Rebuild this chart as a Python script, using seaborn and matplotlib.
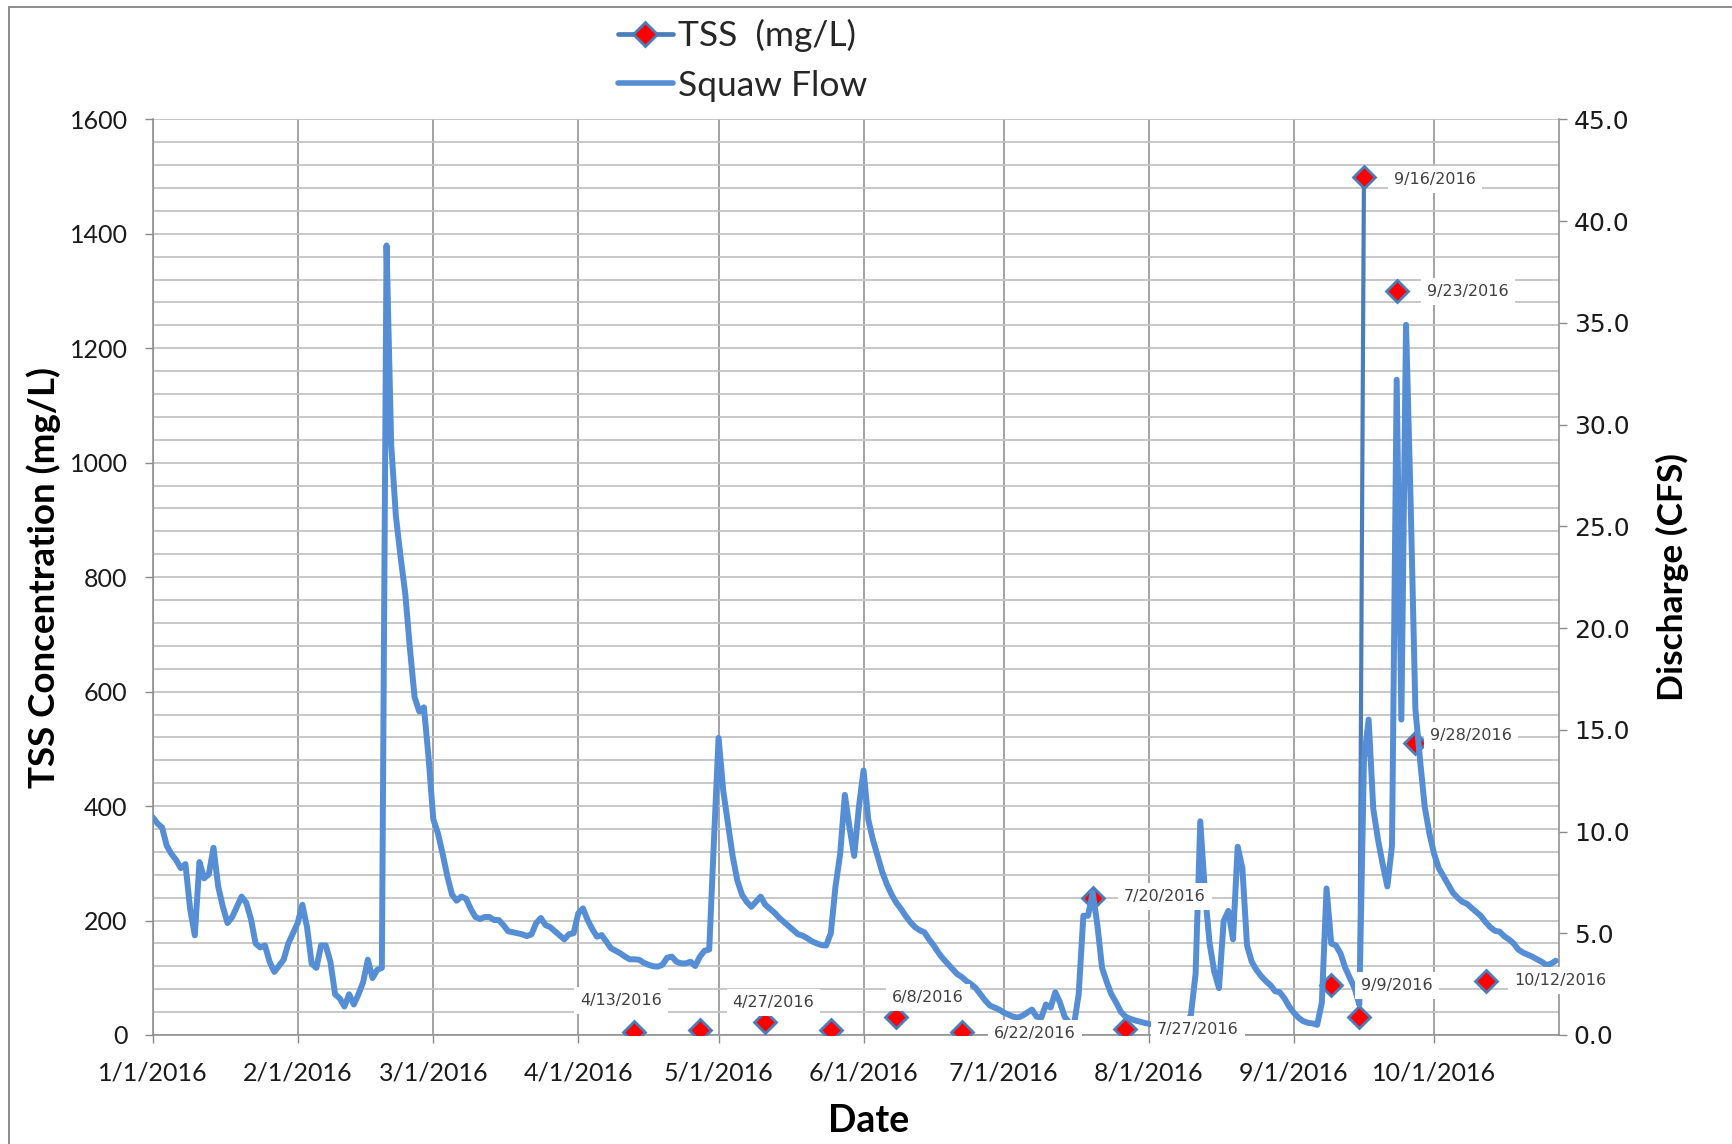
import numpy as np
import pandas as pd
import matplotlib
matplotlib.use("Agg")
import matplotlib.pyplot as plt
import matplotlib.dates as mdates
from matplotlib.lines import Line2D
from matplotlib.ticker import MultipleLocator, FuncFormatter, FormatStrFormatter
import seaborn as sns

# ---------------- data ----------------
flow_start = "2016-01-01"
flow_cfs = [
    10.7, 10.4, 10.2, 9.3, 8.9, 8.6, 8.2, 8.4, 6.2, 4.9,
    8.5, 7.7, 7.9, 9.2, 7.3, 6.3, 5.5, 5.8, 6.3, 6.8,
    6.5, 5.7, 4.5, 4.3, 4.4, 3.6, 3.1, 3.4, 3.7, 4.5,
    5.0, 5.5, 6.4, 5.3, 3.5, 3.3, 4.4, 4.4, 3.6, 2.0,
    1.8, 1.4, 2.0, 1.5, 2.0, 2.6, 3.7, 2.8, 3.2, 3.3,
    38.8, 29.0, 25.5, 23.5, 21.7, 19.0, 16.6, 15.9, 16.1, 13.6,
    10.6, 9.9, 8.9, 7.8, 6.9, 6.6, 6.8, 6.7, 6.2, 5.8,
    5.7, 5.8, 5.8, 5.65, 5.65, 5.4, 5.1, 5.05, 5.0, 4.95,
    4.86, 4.95, 5.5, 5.75, 5.4, 5.3, 5.1, 4.9, 4.7, 4.95,
    5.0, 5.98, 6.22, 5.65, 5.2, 4.83, 4.91, 4.59, 4.26, 4.14,
    4.01, 3.85, 3.72, 3.72, 3.7, 3.55, 3.45, 3.38, 3.36, 3.45,
    3.8, 3.85, 3.6, 3.52, 3.52, 3.6, 3.39, 3.85, 4.14, 4.2,
    9.5, 14.6, 12.0, 10.4, 8.8, 7.6, 6.9, 6.55, 6.3, 6.55,
    6.8, 6.4, 6.2, 6.0, 5.75, 5.55, 5.35, 5.15, 4.95, 4.88,
    4.75, 4.6, 4.5, 4.42, 4.4, 5.0, 7.3, 8.9, 11.8, 10.2,
    8.8, 11.2, 13.0, 10.6, 9.6, 8.8, 8.0, 7.4, 6.9, 6.5,
    6.2, 5.85, 5.55, 5.3, 5.15, 5.05, 4.7, 4.4, 4.05, 3.75,
    3.5, 3.25, 3.0, 2.85, 2.65, 2.5, 2.3, 2.0, 1.7, 1.45,
    1.35, 1.25, 1.1, 1.0, 0.9, 0.85, 0.95, 1.1, 1.25, 0.9,
    0.85, 1.5, 1.35, 2.1, 1.6, 0.9, 0.6, 0.5, 2.0, 5.86,
    5.86, 7.0, 5.4, 3.3, 2.6, 2.0, 1.6, 1.15, 0.9, 0.8,
    0.72, 0.66, 0.6, 0.55, 0.5, 0.45, 0.42, 0.4, 0.38, 0.36,
    0.38, 0.45, 1.0, 3.0, 10.5, 7.0, 4.5, 3.1, 2.3, 5.6,
    6.1, 4.7, 9.25, 8.2, 4.4, 3.6, 3.2, 2.9, 2.65, 2.45,
    2.15, 2.1, 1.8, 1.4, 1.1, 0.85, 0.68, 0.6, 0.57, 0.5,
    1.6, 7.2, 4.5, 4.4, 4.0, 3.3, 2.8, 2.3, 1.5, 13.5,
    15.5, 11.1, 9.6, 8.4, 7.3, 9.3, 32.2, 15.5, 34.9, 26.0,
    16.0, 13.5, 11.2, 9.9, 8.9, 8.2, 7.8, 7.4, 7.0, 6.75,
    6.55, 6.45, 6.25, 6.05, 5.85, 5.55, 5.3, 5.12, 5.08, 4.85,
    4.7, 4.5, 4.2, 4.05, 3.95, 3.85, 3.72, 3.6, 3.44, 3.5,
    3.65,
]

tss_dates = ["2016-04-13", "2016-04-27", "2016-05-11", "2016-05-25",
             "2016-06-08", "2016-06-22", "2016-07-20", "2016-07-27",
             "2016-09-09", "2016-09-15", "2016-09-16", "2016-09-23",
             "2016-09-27", "2016-10-12"]
tss_values = [5, 9, 22, 9, 31, 6, 240, 11, 88, 32, 1500, 1300, 510, 95]
tss_labels = ["4/13/2016", "4/27/2016", "", "", "6/8/2016", "6/22/2016",
              "7/20/2016", "7/27/2016", "9/9/2016", "", "9/16/2016",
              "9/23/2016", "9/28/2016", "10/12/2016"]

month_ticks = ["2016-01-01", "2016-02-01", "2016-03-01", "2016-04-01",
               "2016-05-01", "2016-06-01", "2016-07-01", "2016-08-01",
               "2016-09-01", "2016-10-01"]

# ---------------- styles ----------------
label_offsets = [(-9.6, 22.8), (53, 20), (0, 0), (0, 0), (23, 14.4),
                 (52.6, -1.2), (52, 0.7), (52, -0.7), (47.3, -0.5),
                 (0, 0), (50.9, -1.9), (51.1, -0.5), (40.3, 5.5), (54, 0)]
FLOW_COLOR = "#558ED5"
TSS_LINE = "#4A7EBB"
GRID_H = "#C4C4C4"
GRID_V = "#8A8A8A"

sns.set_theme(style="white")
plt.rcParams['font.family'] = ['Lato', 'DejaVu Sans']

flow_df = pd.DataFrame({
    "date": pd.date_range(flow_start, periods=len(flow_cfs), freq="D"),
    "cfs": flow_cfs,
})
tss_df = pd.DataFrame({"date": pd.to_datetime(tss_dates), "tss": tss_values})
tss_df["run"] = (tss_df["date"].diff().dt.days.fillna(99) > 1).cumsum()

W, H = 1732, 1144
fig = plt.figure(figsize=(W / 100, H / 100), dpi=100)
x0, x1, y_top, y_bot = 152.7, 1558.5, 119.3, 1035.0
ax = fig.add_axes([x0 / W, 1 - y_bot / H, (x1 - x0) / W, (y_bot - y_top) / H])
ax2 = ax.twinx()

# TSS series (consecutive days joined by a line)
sns.lineplot(data=tss_df, x="date", y="tss", units="run", estimator=None,
             ax=ax, color=TSS_LINE, lw=3.0, marker="D", markersize=11.5,
             markerfacecolor="#FF0000", markeredgecolor=TSS_LINE,
             markeredgewidth=2.0, legend=False, zorder=3)

# Flow series on secondary axis
sns.lineplot(data=flow_df, x="date", y="cfs", estimator=None, ax=ax2,
             color=FLOW_COLOR, lw=4.3, legend=False, zorder=3,
             solid_joinstyle="round", solid_capstyle="round")

start = pd.Timestamp(flow_start)
ax.set_xlim(mdates.date2num(start), mdates.date2num(start) + 300.6)
ax.set_ylim(0, 1600)
ax2.set_ylim(0, 45)

# grid & ticks
ax.set_axisbelow(True)
ax.yaxis.set_major_locator(MultipleLocator(200))
ax.yaxis.set_minor_locator(MultipleLocator(40))
ax.grid(which="both", axis="y", color=GRID_H, lw=1.3)
ax.set_xticks(mdates.date2num(pd.to_datetime(month_ticks)))
ax.grid(which="major", axis="x", color=GRID_V, lw=1.1)
ax.xaxis.set_major_formatter(FuncFormatter(
    lambda v, p: "{0.month}/{0.day}/{0.year}".format(mdates.num2date(v))))

ax2.yaxis.set_major_locator(MultipleLocator(5))
ax2.yaxis.set_major_formatter(FormatStrFormatter("%.1f"))

for s in ["top", "right"]:
    ax.spines[s].set_visible(False)
for s in ["left", "bottom"]:
    ax.spines[s].set_color(GRID_V)
    ax.spines[s].set_linewidth(1.1)
for s in ["top", "left", "bottom"]:
    ax2.spines[s].set_visible(False)
ax2.spines["right"].set_color(GRID_V)
ax2.spines["right"].set_linewidth(1.1)

ax.tick_params(axis="y", which="major", direction="out", length=6, width=1,
               color=GRID_V, labelsize=18, pad=12, labelcolor="#1a1a1a",
               left=True)
ax.tick_params(axis="y", which="minor", length=0)
ax.tick_params(axis="x", which="major", direction="out", length=6, width=1,
               color=GRID_V, labelsize=18, pad=13, labelcolor="#1a1a1a",
               bottom=True)
ax2.tick_params(axis="y", which="major", direction="out", length=6, width=1,
                color=GRID_V, labelsize=18, pad=5, labelcolor="#1a1a1a",
                right=True, labelfontfamily="DejaVu Sans")

# axis labels
ax.set_xlabel("Date", fontsize=27, fontweight="bold", color="#000000")
ax.xaxis.set_label_coords(0.5095, -0.075)
ax.set_ylabel("TSS Concentration (mg/L)", fontsize=26.5, fontweight="bold",
              color="#000000")
ax.yaxis.set_label_coords(-0.065, 0.5)
ax2.set_ylabel("Discharge (CFS)", fontsize=25.5, fontweight="bold",
               color="#000000", rotation=90)
ax2.yaxis.set_label_coords(1.069, 0.5)

# data labels (drawn above the flow line, positioned in TSS coordinates)
for d, v, txt, off in zip(tss_df["date"], tss_values, tss_labels, label_offsets):
    if not txt:
        continue
    ax2.annotate(txt, xy=(mdates.date2num(d), v), xycoords=ax.transData,
                 xytext=off, textcoords="offset points", ha="center",
                 va="center", fontsize=11.5, family="DejaVu Sans",
                 color="#404040", zorder=6, annotation_clip=False,
                 bbox=dict(boxstyle="square,pad=0.38", fc="white", ec="none"))

# legend
handles = [
    Line2D([], [], color=TSS_LINE, lw=3.4, marker="D", markersize=12,
           markerfacecolor="#FF0000", markeredgecolor=TSS_LINE,
           markeredgewidth=2.0),
    Line2D([], [], color=FLOW_COLOR, lw=4.0),
]
fig.legend(handles, ["TSS  (mg/L)", "Squaw Flow"], loc="upper left",
           bbox_to_anchor=(618 / W, 1 - 19 / H), frameon=False, fontsize=25.5,
           handlelength=1.55, handletextpad=0.15, labelspacing=0.5,
           borderaxespad=0, borderpad=0)

# chart-area border (top and left visible in the original crop)
fig.add_artist(Line2D([9 / W, 9 / W], [0, 1 - 6.6 / H],
                      transform=fig.transFigure, color="#8C8C8C", lw=1.4))
fig.add_artist(Line2D([9 / W, 1], [1 - 6.6 / H, 1 - 6.6 / H],
                      transform=fig.transFigure, color="#8C8C8C", lw=1.4))

fig.savefig("out.png", dpi=100)
